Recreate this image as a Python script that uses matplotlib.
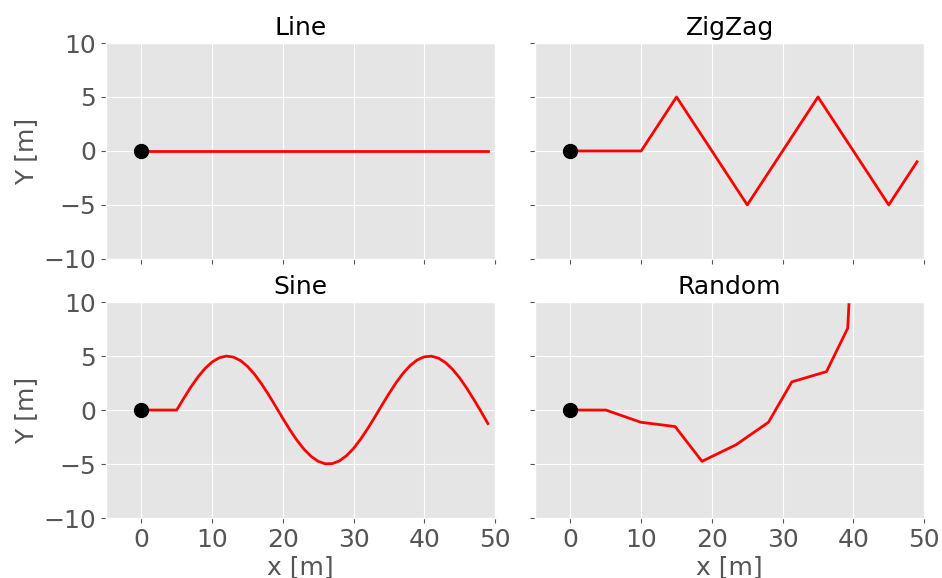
import matplotlib
matplotlib.use("Agg")
import matplotlib.pyplot as plt

plt.style.use("ggplot")
plt.rcParams['font.family'] = ['DejaVu Sans']

titles = ["Line", "ZigZag", "Sine", "Random"]

line_x = [0, 49]
line_y = [0, 0]

zigzag_x = [0, 10, 15, 25, 35, 45, 49]
zigzag_y = [0, 0, 5, -5, 5, -5, -1]

sine_x = [0] + list(range(5, 50))
sine_y = [0, 0, 1.09, 2.13, 3.06, 3.85, 4.45, 4.84, 5.00, 4.91, 4.59, 4.05,
          3.31, 2.42, 1.41, 0.33, -0.77, -1.83, -2.80, -3.63, -4.29, -4.75,
          -4.98, -4.96, -4.71, -4.23, -3.56, -2.70, -1.72, -0.66, 0.44, 1.51,
          2.52, 3.40, 4.12, 4.64, 4.93, 4.99, 4.81, 4.40, 3.77, 2.98, 2.03,
          0.98, -0.11, -1.25]

random_x = [0, 5.0, 9.95, 14.8, 18.6, 23.4, 28.0, 31.3, 36.2, 39.2, 39.6]
random_y = [0, 0, -1.13, -1.53, -4.75, -3.22, -1.13, 2.61, 3.56, 7.58, 12.6]

series = [(line_x, line_y), (zigzag_x, zigzag_y), (sine_x, sine_y), (random_x, random_y)]

fig, axes = plt.subplots(2, 2, figsize=(9.42, 5.78), dpi=100, sharex=True, sharey=True)
fig.subplots_adjust(left=0.1125, right=0.981, top=0.9256, bottom=0.1038,
                    wspace=0.103, hspace=0.2)

for ax, title, (xs, ys) in zip(axes.flat, titles, series):
    ax.plot(xs, ys, color="red", lw=2)
    ax.plot([0], [0], "o", color="black", markersize=10)
    ax.set_title(title, fontsize=18, color="black")
    ax.set_xlim(-5, 50)
    ax.set_ylim(-10, 10)
    ax.set_xticks([0, 10, 20, 30, 40, 50])
    ax.set_yticks([-10, -5, 0, 5, 10])
    ax.tick_params(labelsize=18, colors="#555555")

for ax in axes[:, 0]:
    ax.set_ylabel("Y [m]", fontsize=18, color="#555555")
for ax in axes[1, :]:
    ax.set_xlabel("x [m]", fontsize=18, color="#555555", labelpad=2.5)

fig.savefig("out.png", dpi=100)
